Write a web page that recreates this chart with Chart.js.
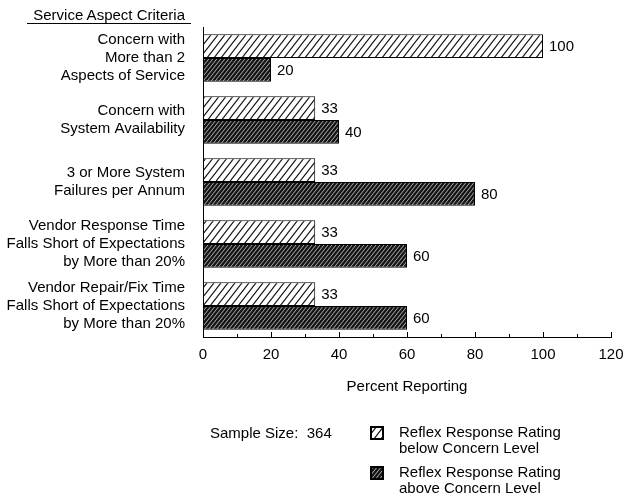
<!DOCTYPE html>
<html>
<head>
<meta charset="utf-8">
<title>Service Aspect Criteria</title>
<script src="https://cdn.jsdelivr.net/npm/chart.js@4/dist/chart.umd.min.js"></script>
<style>
  html, body { margin: 0; padding: 0; background: #fff; }
  #wrap { position: relative; width: 625px; height: 498px; font-family: "Liberation Sans", Arial, Helvetica, sans-serif; color: #000; }
  #c { position: absolute; left: 0; top: 0; }
  .txt { position: absolute; font-size: 15px; line-height: 16px; white-space: pre; }
  #axisHead { left: 27px; top: 6px; width: 158px; padding-right: 6px; text-align: right; line-height: 17px; border-bottom: 1.5px solid #000; }
  .legItem { position: absolute; left: 370px; }
  .legItem canvas { position: absolute; left: 0; top: 0; }
  .legItem .txt { left: 29px; }
</style>
</head>
<body>
<div id="wrap">
  <canvas id="c" width="625" height="498"></canvas>
  <div class="txt" id="axisHead"></div>
  <div class="txt" id="sample" style="left:210px; top:425px;"></div>
  <div id="legend"></div>
</div>
<script>
// Criteria shown on the vertical axis (one array of lines per row)
const categories = [
  ["Concern with", "More than 2", "Aspects of Service"],
  ["Concern with", "System Availability"],
  ["3 or More System", "Failures per Annum"],
  ["Vendor Response Time", "Falls Short of Expectations", "by More than 20%"],
  ["Vendor Repair/Fix Time", "Falls Short of Expectations", "by More than 20%"]
];

// Percent reporting, per criterion
const belowConcern = [100, 33, 33, 33, 33];
const aboveConcern = [20, 40, 80, 60, 60];

// Horizontal axis ticks
const xTicks = [0, 20, 40, 60, 80, 100, 120];
const xMinorStep = 10;

// Texts
const axisHeading = "Service Aspect Criteria";
const xTitle = "Percent Reporting";
const sampleText = "Sample Size:  364";
const belowLegend = ["Reflex Response Rating", "below Concern Level"];
const aboveLegend = ["Reflex Response Rating", "above Concern Level"];

const FONT = '"Liberation Sans", Arial, Helvetica, sans-serif';
const INK = '#000';

// Hatch fills: one rising diagonal per w×h tile
function hatch(w, h, bg, fg, lw) {
  const t = document.createElement('canvas');
  t.width = w; t.height = h;
  const g = t.getContext('2d');
  g.fillStyle = bg; g.fillRect(0, 0, w, h);
  g.strokeStyle = fg; g.lineWidth = lw;
  const dx = w / h;
  g.beginPath();
  for (let k = -1; k <= 1; k++) {
    g.moveTo(k * w - dx, h + 1); g.lineTo(k * w + w + dx, -1);
  }
  g.stroke();
  return g.createPattern(t, 'repeat');
}
const lightFill = hatch(7, 9, '#ffffff', '#111111', 1.1);
const darkFill = hatch(4, 5, '#161616', '#bdbdbd', 0.9);

document.getElementById('axisHead').textContent = axisHeading;
document.getElementById('sample').textContent = sampleText;

// Inward tick marks on the value axis
const tickMarks = {
  id: 'tickMarks',
  afterDraw(chart) {
    const sx = chart.scales.x;
    const g = chart.ctx;
    const yb = chart.chartArea.bottom;
    g.save();
    g.strokeStyle = INK; g.lineWidth = 1;
    g.beginPath();
    for (let v = sx.min; v <= sx.max; v += xMinorStep) {
      const px = Math.round(sx.getPixelForValue(v)) + 0.5;
      const len = (v % 20 === 0) ? 5 : 3;
      g.moveTo(px, yb); g.lineTo(px, yb - len);
    }
    g.stroke();
    g.restore();
  }
};

// Value printed at the end of each bar
const barValues = {
  id: 'barValues',
  afterDatasetsDraw(chart) {
    const g = chart.ctx;
    g.save();
    g.fillStyle = INK;
    g.font = '15px ' + FONT;
    g.textBaseline = 'middle';
    g.textAlign = 'left';
    chart.data.datasets.forEach((ds, di) => {
      chart.getDatasetMeta(di).data.forEach((bar, i) => {
        g.fillText(String(ds.data[i]), bar.x + 6, bar.y + 1);
      });
    });
    g.restore();
  }
};

const chart = new Chart(document.getElementById('c'), {
  type: 'bar',
  data: {
    labels: categories,
    datasets: [
      { label: belowLegend.join(' '), data: belowConcern, backgroundColor: lightFill, borderColor: INK, borderWidth: 1, borderSkipped: false },
      { label: aboveLegend.join(' '), data: aboveConcern, backgroundColor: darkFill, borderColor: INK, borderWidth: 1, borderSkipped: false }
    ]
  },
  options: {
    indexAxis: 'y',
    responsive: false,
    animation: false,
    events: [],
    layout: { padding: { left: 0, right: 14, top: 27, bottom: 101 } },
    datasets: { bar: { barPercentage: 1, categoryPercentage: 0.77 } },
    scales: {
      x: {
        type: 'linear',
        min: xTicks[0],
        max: xTicks[xTicks.length - 1],
        afterBuildTicks(s) { s.ticks = xTicks.map(v => ({ value: v })); },
        ticks: { color: INK, font: { family: FONT, size: 15 }, padding: 9, maxRotation: 0 },
        grid: { display: false, drawTicks: false },
        border: { display: true, color: INK, width: 1 },
        title: { display: true, text: xTitle, color: INK, font: { family: FONT, size: 15 }, padding: { top: 0, bottom: 1 } },
        afterFit(s) { s.height = 60; s.paddingLeft = 0; s.paddingRight = 0; }
      },
      y: {
        ticks: { color: INK, font: { family: FONT, size: 15, lineHeight: 1.2 }, padding: 18, crossAlign: 'near' },
        grid: { display: false, drawTicks: false },
        border: { display: true, color: INK, width: 1 },
        afterFit(s) { s.width = 203; s.paddingTop = 0; s.paddingBottom = 0; }
      }
    },
    plugins: { legend: { display: false }, tooltip: { enabled: false } }
  },
  plugins: [tickMarks, barValues]
});

// Legend built from the chart's datasets
const legendLines = [belowLegend, aboveLegend];
const legendTops = [424, 464];
const legendEl = document.getElementById('legend');
chart.data.datasets.forEach((ds, i) => {
  const item = document.createElement('div');
  item.className = 'legItem';
  item.style.top = legendTops[i] + 'px';
  const sw = document.createElement('canvas');
  sw.width = 14; sw.height = 14;
  sw.style.top = '2px';
  const g = sw.getContext('2d');
  g.fillStyle = ds.backgroundColor;
  g.fillRect(0, 0, 14, 14);
  g.strokeStyle = INK; g.lineWidth = 2;
  g.strokeRect(1, 1, 12, 12);
  item.appendChild(sw);
  const t = document.createElement('div');
  t.className = 'txt';
  t.style.top = '0px';
  t.textContent = legendLines[i].join('\n');
  item.appendChild(t);
  legendEl.appendChild(item);
});
</script>
</body>
</html>
